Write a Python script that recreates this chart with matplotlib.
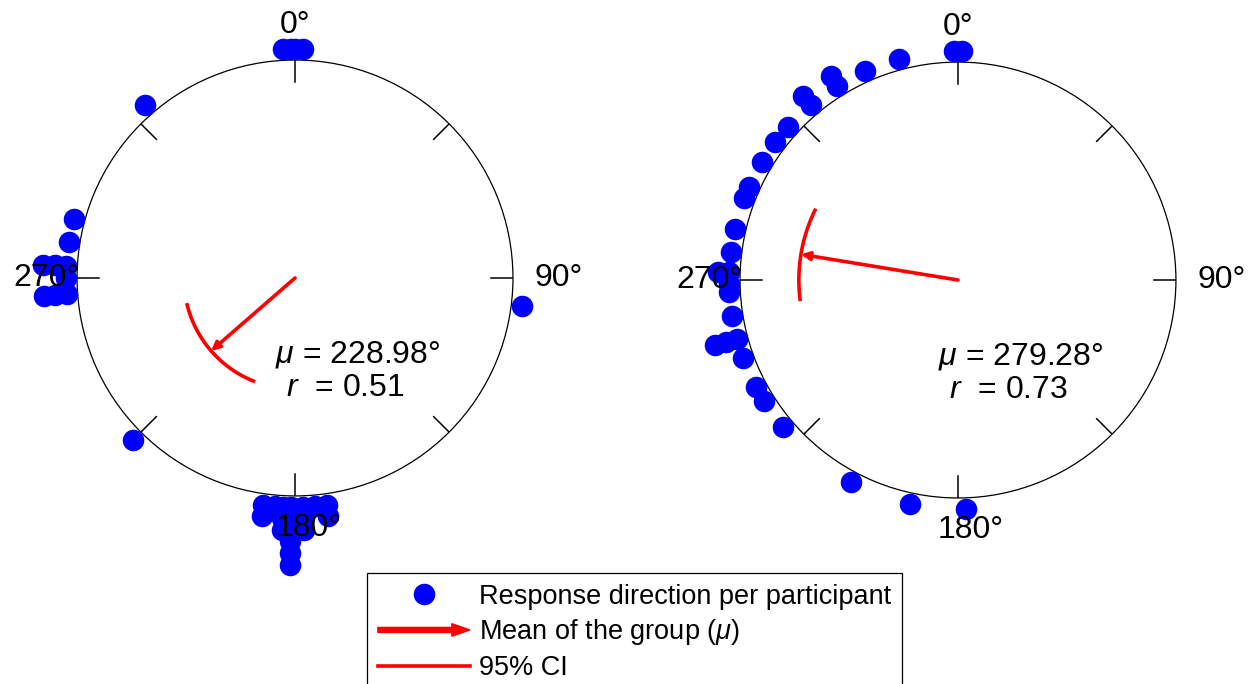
import matplotlib.pyplot as plt
import numpy as np
from matplotlib.lines import Line2D
from matplotlib.patches import FancyArrow, Patch
from matplotlib.legend_handler import HandlerPatch

plt.rcParams['font.family'] = ['Liberation Sans', 'DejaVu Sans']
plt.rcParams['mathtext.fontset'] = 'custom'
plt.rcParams['mathtext.rm'] = 'Liberation Sans'
plt.rcParams['mathtext.it'] = 'Liberation Sans:italic'

# response direction of each participant, degrees clockwise from 0 at top
group1_deg = [357, 359, 0, 2, 319, 285, 279, 273, 273, 273, 270, 266, 266, 266,
              97, 225, 188, 188, 185, 183, 183, 183, 181, 181, 181, 181, 181,
              181, 178, 178, 178, 175, 172, 172]
group2_deg = [359, 1, 345, 336, 328, 328, 320, 320, 312, 307, 301, 294, 291,
              283, 277, 272, 272, 269, 267, 261, 255, 255, 255, 250, 242,
              238, 230, 208, 192, 178]

# group mean direction, resultant length and 95% CI (degrees)
group1_mu, group1_r, group1_ci = 228.98, 0.51, (202, 256)
group2_mu, group2_r, group2_ci = 279.28, 0.73, (263, 296)

tick_deg = [0, 45, 90, 135, 180, 225, 270, 315]
label_deg = [0, 90, 180, 270]
label_pos = {0: (0, 1.16), 90: (90, 1.21), 180: (177, 1.15), 270: (270, 1.14)}


def stack_radii(deg, base=1.05, step=0.053):
    # identical directions are piled outward from the circle
    seen = {}
    radii = []
    for d in deg:
        k = seen.get(d, 0)
        radii.append(base + step * k)
        seen[d] = k + 1
    return radii


def circ_panel(fig, rect, deg, mu, r, ci):
    ax = fig.add_axes(rect, projection='polar')
    ax.set_theta_zero_location('N')
    ax.set_theta_direction(-1)
    ax.set_ylim(0, 1)
    ax.set_xticks([])
    ax.set_yticks([])
    ax.grid(False)
    ax.spines['polar'].set_linewidth(0.9)

    for t in tick_deg:
        ax.plot(np.radians([t, t]), [0.9, 1.0], color='k', lw=1.1)
    for t in label_deg:
        th, rr = label_pos[t]
        ax.text(np.radians(th), rr, '%d°' % t, ha='center', va='center',
                fontsize=23, zorder=5)

    ax.plot(np.radians(deg), stack_radii(deg), 'o', color='blue',
            markersize=14.5, clip_on=False, zorder=3)

    # mean resultant vector and its confidence arc
    ax.annotate('', xy=(np.radians(mu), r), xytext=(0, 0),
                arrowprops=dict(arrowstyle='-|>', color='red', lw=2.6,
                                mutation_scale=12, shrinkA=0, shrinkB=0))
    arc = np.radians(np.linspace(ci[0], ci[1], 60))
    ax.plot(arc, np.full(arc.size, r), color='red', lw=2.6)

    ax.text(0.454, 0.3235, r'$\mu$ = %.2f°' % mu, transform=ax.transAxes,
            ha='left', va='center', fontsize=23)
    ax.text(0.479, 0.2477, r'$r$  = %.2f' % r, transform=ax.transAxes,
            ha='left', va='center', fontsize=23)
    return ax


def arrow_handle(legend, orig_handle, xdescent, ydescent, width, height, fontsize):
    y = height / 2 - ydescent
    return FancyArrow(-xdescent, y, width, 0, width=3.6, head_width=9,
                      head_length=13, length_includes_head=True)


fig = plt.figure(figsize=(12.49, 6.84), dpi=100)
circ_panel(fig, [0.0617, 0.2749, 0.349, 0.6374], group1_deg,
           group1_mu, group1_r, group1_ci)
circ_panel(fig, [0.5925, 0.2719, 0.349, 0.6374], group2_deg,
           group2_mu, group2_r, group2_ci)

handles = [Line2D([], [], ls='none', marker='o', color='blue', markersize=14.5),
           Patch(color='red'),
           Line2D([], [], color='red', lw=2.6)]
labels = ['Response direction per participant', r'Mean of the group ($\mu$)',
          '95% CI']
leg = fig.legend(handles, labels, loc='upper left',
                 bbox_to_anchor=(367 / 1249, 1 - 573 / 684), borderaxespad=0,
                 fontsize=19.5, frameon=True, fancybox=False, framealpha=1,
                 edgecolor='black', handlelength=3.4, handletextpad=0.35,
                 labelspacing=0.28, borderpad=0.4,
                 handler_map={Patch: HandlerPatch(patch_func=arrow_handle)})
leg.get_frame().set_linewidth(0.9)

fig.savefig('out.png', dpi=100)
